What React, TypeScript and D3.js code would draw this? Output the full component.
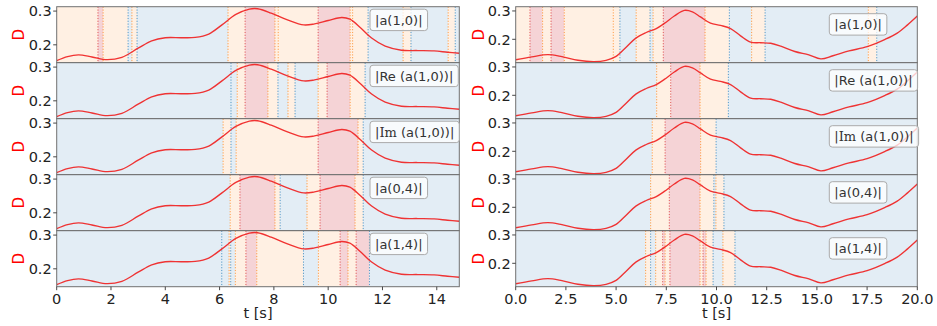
import React, { useEffect, useRef } from "react";
import * as d3 from "d3";

// ---------- data ----------
const rowLabels = ["|a(1,0)|", "|Re (a(1,0))|", "|Im (a(1,0))|", "|a(0,4)|", "|a(1,4)|"];

const leftT = [0, 0.4, 0.8, 1.3, 1.85, 2.4, 3.0, 3.5, 4.0, 4.6, 5.1, 5.6, 6.1, 6.6, 7.1, 7.4, 7.9, 8.5, 9.1, 9.5, 10.0, 10.5, 10.8, 11.2, 11.6, 12.1, 12.7, 13.3, 13.9, 14.4, 14.83];
const leftD = [0.153, 0.165, 0.170, 0.164, 0.156, 0.163, 0.190, 0.212, 0.221, 0.221, 0.222, 0.232, 0.260, 0.290, 0.306, 0.307, 0.294, 0.274, 0.259, 0.262, 0.272, 0.281, 0.276, 0.250, 0.220, 0.196, 0.184, 0.183, 0.182, 0.178, 0.175];

const rightT = [0, 0.8, 1.6, 2.3, 3.1, 3.9, 4.5, 5.0, 5.5, 6.0, 6.5, 7.0, 7.4, 7.9, 8.4, 8.8, 9.2, 9.7, 10.2, 10.7, 11.2, 11.7, 12.2, 12.7, 13.2, 13.9, 14.6, 15.2, 15.8, 16.6, 17.5, 18.4, 19.0, 19.5, 20.0];
const rightD = [0.128, 0.138, 0.146, 0.139, 0.126, 0.121, 0.126, 0.140, 0.172, 0.205, 0.224, 0.238, 0.256, 0.282, 0.302, 0.297, 0.279, 0.257, 0.249, 0.238, 0.212, 0.190, 0.188, 0.186, 0.176, 0.157, 0.145, 0.131, 0.142, 0.159, 0.174, 0.200, 0.222, 0.250, 0.282];

const leftXTicks = [0, 2, 4, 6, 8, 10, 12, 14];
const rightXTicks = [0, 2.5, 5, 7.5, 10, 12.5, 15, 17.5, 20];
const yTicks = [0.2, 0.3];

// segments: [start t, end t, state]  (0 = blue, 1 = orange, 2 = red)
type Seg = [number, number, number];
const leftSegs1: Seg[] = [[0, 1.52, 1], [1.52, 1.71, 2], [1.71, 2.63, 1], [2.63, 2.77, 0], [2.77, 2.96, 1], [2.96, 6.31, 0], [6.31, 6.94, 1], [6.94, 8.04, 2], [8.04, 8.16, 1], [8.16, 9.63, 1], [9.63, 10.81, 2], [10.81, 10.9, 1], [10.9, 11.47, 1], [11.47, 12.76, 0], [12.76, 13.05, 1], [13.05, 14.42, 0], [14.42, 14.68, 1], [14.68, 14.83, 0]];
const leftSegs2: Seg[] = [[0, 6.42, 0], [6.42, 6.65, 0], [6.65, 6.94, 1], [6.94, 7.78, 2], [7.78, 8.15, 1], [8.15, 8.52, 0], [8.52, 8.78, 1], [8.78, 9.63, 0], [9.63, 9.96, 1], [9.96, 10.81, 2], [10.81, 11.36, 1], [11.36, 14.83, 0]];
const leftSegs3: Seg[] = [[0, 6.13, 0], [6.13, 6.42, 1], [6.42, 6.61, 0], [6.61, 9.63, 1], [9.63, 11.1, 2], [11.1, 11.29, 1], [11.29, 14.83, 0]];
const leftSegs4: Seg[] = [[0, 6.39, 0], [6.39, 6.75, 1], [6.75, 8.04, 2], [8.04, 8.23, 1], [8.23, 9.22, 0], [9.22, 9.7, 1], [9.7, 10.99, 2], [10.99, 11.29, 1], [11.29, 14.83, 0]];
const leftSegs5: Seg[] = [[0, 6.08, 0], [6.08, 6.35, 0], [6.35, 6.41, 1], [6.41, 6.58, 0], [6.58, 6.97, 1], [6.97, 7.37, 2], [7.37, 9.09, 1], [9.09, 9.64, 0], [9.64, 10.44, 1], [10.44, 10.73, 2], [10.73, 11.03, 1], [11.03, 11.52, 2], [11.52, 14.83, 0]];

const rightSegs1: Seg[] = [[0, 0.71, 1], [0.71, 1.34, 2], [1.34, 1.76, 1], [1.76, 2.42, 2], [2.42, 4.86, 1], [4.86, 5.19, 1], [5.19, 6.0, 0], [6.0, 6.69, 1], [6.69, 6.84, 0], [6.84, 7.35, 1], [7.35, 9.43, 2], [9.43, 10.64, 1], [10.64, 11.75, 0], [11.75, 12.42, 1], [12.42, 17.56, 0], [17.56, 17.98, 1], [17.98, 20, 0]];
const rightSegs2: Seg[] = [[0, 7.02, 0], [7.02, 7.72, 1], [7.72, 9.18, 2], [9.18, 10.59, 1], [10.59, 20, 0]];
const rightSegs3: Seg[] = [[0, 6.8, 0], [6.8, 7.44, 1], [7.44, 9.21, 2], [9.21, 9.98, 1], [9.98, 20, 0]];
const rightSegs4: Seg[] = [[0, 6.72, 0], [6.72, 7.65, 1], [7.65, 9.18, 2], [9.18, 9.87, 1], [9.87, 9.97, 0], [9.97, 10.37, 1], [10.37, 20, 0]];
const rightSegs5: Seg[] = [[0, 6.47, 0], [6.47, 6.72, 1], [6.72, 6.97, 0], [6.97, 7.32, 1], [7.32, 7.44, 2], [7.44, 7.68, 1], [7.68, 9.18, 2], [9.18, 9.33, 1], [9.33, 9.48, 2], [9.48, 9.83, 1], [9.83, 10.32, 0], [10.32, 10.92, 1], [10.92, 20, 0]];

const leftSegs = [leftSegs1, leftSegs2, leftSegs3, leftSegs4, leftSegs5];
const rightSegs = [rightSegs1, rightSegs2, rightSegs3, rightSegs4, rightSegs5];

// ---------- styles ----------
const W = 937, H = 326;
const FONT = "DejaVu Sans, sans-serif";
const stateFill = ["#e3edf5", "#fff0e3", "#f5d3d6"];
const stateLine = ["#1f77b4", "#ff7f0e", "#d62728"];
const rowTop = 6.7, rowH = 56;

export default function App() {
  const ref = useRef<SVGSVGElement>(null);
  useEffect(() => {
    const svg = d3.select(ref.current);
    svg.selectAll("*").remove();

    const panels = [
      { x0: 56.7, x1: 459.3, tmax: 14.83, yd: [0.147, 0.313], t: leftT, d: leftD, segs: leftSegs, xt: leftXTicks, fmt: d3.format("d"), labelX: 370, labelDy: 2.5, yLabelX: 18.5 },
      { x0: 515.7, x1: 917.3, tmax: 20, yd: [0.1175, 0.315], t: rightT, d: rightD, segs: rightSegs, xt: rightXTicks, fmt: d3.format(".1f"), labelX: 829.3, labelDy: 7, yLabelX: 479 },
    ];

    panels.forEach((p, pi) => {
      const x = d3.scaleLinear().domain([0, p.tmax]).range([p.x0, p.x1]);
      for (let i = 0; i < 5; i++) {
        const top = rowTop + i * rowH;
        const y = d3.scaleLinear().domain(p.yd).range([top + rowH, top]);
        const g = svg.append("g");
        const clipId = `clip-${pi}-${i}`;
        g.append("clipPath").attr("id", clipId).append("rect")
          .attr("x", p.x0).attr("y", top).attr("width", p.x1 - p.x0).attr("height", rowH);
        const inner = g.append("g").attr("clip-path", `url(#${clipId})`);
        const segs = p.segs[i];
        inner.selectAll("rect.seg").data(segs).join("rect").attr("class", "seg")
          .attr("x", (s) => x(s[0])).attr("y", top)
          .attr("width", (s) => Math.max(0, x(s[1]) - x(s[0]))).attr("height", rowH)
          .attr("fill", (s) => stateFill[s[2]]);
        inner.selectAll("line.bd").data(segs.slice(1)).join("line").attr("class", "bd")
          .attr("x1", (s) => x(s[0])).attr("x2", (s) => x(s[0]))
          .attr("y1", top).attr("y2", top + rowH)
          .attr("stroke", (s) => stateLine[s[2]]).attr("stroke-width", 1)
          .attr("stroke-dasharray", "1.2,1.6").attr("opacity", 0.75);
        const line = d3.line<number>().x((_, k) => x(p.t[k])).y((v) => y(v)).curve(d3.curveCatmullRom.alpha(0.5));
        inner.append("path").attr("d", line(p.d) || "").attr("fill", "none")
          .attr("stroke", "#f01e1e").attr("stroke-width", 1.35).attr("opacity", 0.9);
        // frame
        g.append("rect").attr("x", p.x0).attr("y", top).attr("width", p.x1 - p.x0).attr("height", rowH)
          .attr("fill", "none").attr("stroke", "#707070").attr("stroke-width", 1);
        // y ticks
        yTicks.forEach((v) => {
          g.append("line").attr("x1", p.x0 - 3.5).attr("x2", p.x0).attr("y1", y(v)).attr("y2", y(v))
            .attr("stroke", "#333").attr("stroke-width", 0.9);
          g.append("text").attr("x", p.x0 - 5).attr("y", y(v)).attr("dy", "0.36em")
            .attr("text-anchor", "end").attr("font-family", FONT).attr("font-size", 14.5).attr("fill", "#222")
            .text(d3.format(".1f")(v));
        });
        // y label
        g.append("text").attr("transform", `translate(${p.yLabelX},${top + rowH / 2}) rotate(-90)`)
          .attr("text-anchor", "middle").attr("dy", "0.36em").attr("font-family", FONT).attr("font-size", 15)
          .attr("fill", "red").text("D");
        // label box
        const lg = g.append("g");
        const txt = lg.append("text").attr("x", p.labelX + 5).attr("y", top + p.labelDy + 10.7).attr("dy", "0.36em")
          .attr("font-family", FONT).attr("font-size", 13).attr("fill", "#333");
        const lab = rowLabels[i];
        if (lab.startsWith("|Im")) {
          txt.append("tspan").text("|");
          txt.append("tspan").attr("font-family", "DejaVu Serif, serif").text("Im");
          txt.append("tspan").text(lab.slice(3));
        } else {
          txt.text(lab);
        }
        const bb = (txt.node() as SVGTextElement).getBBox();
        lg.insert("rect", "text").attr("x", p.labelX).attr("y", top + p.labelDy)
          .attr("width", bb.width + 10).attr("height", 21.4).attr("rx", 3)
          .attr("fill", "white").attr("fill-opacity", 0.75).attr("stroke", "#aaa").attr("stroke-width", 1);
      }
      // x axis on bottom row
      const bottom = rowTop + 5 * rowH;
      p.xt.forEach((v) => {
        svg.append("line").attr("x1", x(v)).attr("x2", x(v)).attr("y1", bottom).attr("y2", bottom + 3.5)
          .attr("stroke", "#333").attr("stroke-width", 0.9);
        svg.append("text").attr("x", x(v)).attr("y", 303.5).attr("text-anchor", "middle")
          .attr("font-family", FONT).attr("font-size", 14.5).attr("fill", "#222").text(p.fmt(v));
      });
      svg.append("text").attr("x", (p.x0 + p.x1) / 2).attr("y", 318).attr("text-anchor", "middle")
        .attr("font-family", FONT).attr("font-size", 14.5).attr("fill", "#222").text("t [s]");
    });
  }, []);
  return (
    <svg ref={ref} width={W} height={H} style={{ position: "absolute", left: 0, top: 0, background: "white" }} />
  );
}
